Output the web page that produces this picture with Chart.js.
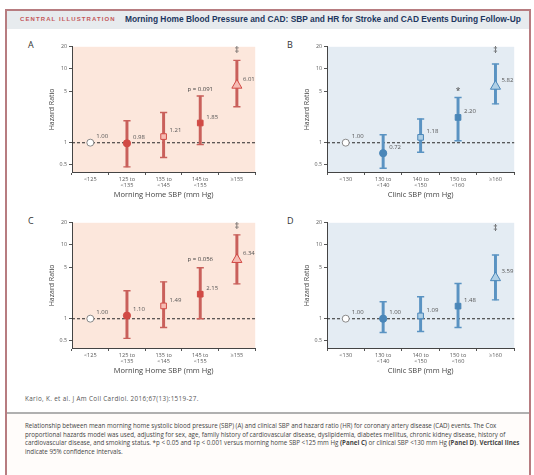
<!DOCTYPE html>
<html>
<head>
<meta charset="utf-8">
<script src="https://cdn.jsdelivr.net/npm/chart.js@4.4.1/dist/chart.umd.min.js"></script>
<style>
  body { margin: 0; width: 534px; height: 475px; background: #fff; font-family: "Open Sans", "Liberation Sans", sans-serif; position: relative; overflow: hidden; }
  .frame { position: absolute; left: 5px; top: 9px; width: 522px; height: 480px; border: 2px solid #b77c80; }
  .titlebar { position: absolute; left: 7px; top: 11px; width: 522px; height: 18px; background: #e7ebee; white-space: nowrap; }
  .tb-kicker { position: absolute; left: 13px; top: 5px; font: bold 6px "Liberation Sans", sans-serif; color: #c4585a; letter-spacing: 1.1px; }
  .tb-title { position: absolute; left: 118px; top: 3px; font: bold 8.4px "Liberation Sans", sans-serif; color: #1d3760; }
  .letter { position: absolute; font: 9px "Open Sans", sans-serif; color: #333; }
  canvas { position: absolute; }
  .cite { position: absolute; left: 25px; top: 394px; font: 6.3px "Open Sans", sans-serif; color: #555; white-space: nowrap; letter-spacing: 0.35px; }
  .sep { position: absolute; left: 7px; top: 412px; width: 522px; height: 2px; background: #b0b0b0; }
  .caption { position: absolute; left: 7px; top: 414px; width: 522px; height: 61px; background: #fffcfa; }
  .caption div { position: absolute; left: 18px; font: 6.2px "Open Sans", sans-serif; color: #444; white-space: nowrap; }
</style>
</head>
<body>
<div class="caption">
  <div style="top:7px">Relationship between mean morning home systolic blood pressure (SBP) (A) and clinical SBP and hazard ratio (HR) for coronary artery disease (CAD) events. The Cox</div>
  <div style="top:15.5px">proportional hazards model was used, adjusting for sex, age, family history of cardiovascular disease, dyslipidemia, diabetes mellitus, chronic kidney disease, history of</div>
  <div style="top:24px">cardiovascular disease, and smoking status. *p &lt; 0.05 and ‡p &lt; 0.001 versus morning home SBP &lt;125 mm Hg <b>(Panel C)</b> or clinical SBP &lt;130 mm Hg <b>(Panel D)</b>. <b>Vertical lines</b></div>
  <div style="top:32.5px">indicate 95% confidence intervals.</div>
</div>
<div class="frame"></div>
<div class="titlebar">
  <span class="tb-kicker">CENTRAL ILLUSTRATION</span>
  <span class="tb-title">Morning Home Blood Pressure and CAD: SBP and HR for Stroke and CAD Events During Follow-Up</span>
</div>
<div class="letter" style="left:28px;top:38px">A</div>
<div class="letter" style="left:287px;top:38px">B</div>
<div class="letter" style="left:28px;top:214px">C</div>
<div class="letter" style="left:287px;top:214px">D</div>
<canvas id="chartA" width="236" height="162" style="left:26px;top:40px"></canvas>
<canvas id="chartB" width="240" height="162" style="left:281px;top:40px"></canvas>
<canvas id="chartC" width="236" height="162" style="left:26px;top:216px"></canvas>
<canvas id="chartD" width="240" height="162" style="left:281px;top:216px"></canvas>
<div class="cite">Kario, K. et al. J Am Coll Cardiol. 2016;67(13):1519-27.</div>
<div class="sep"></div>

<script>
// categories
const homeSbpLabels = [['<125'], ['125 to', '<135'], ['135 to', '<145'], ['145 to', '<155'], ['\u2265155']];
const clinicSbpLabels = [['<130'], ['130 to', '<140'], ['140 to', '<150'], ['150 to', '<160'], ['\u2265160']];
const yTickValues = [0.5, 1, 5, 10, 20];

// panel A: morning home SBP
const hrA = [1.00, 0.98, 1.21, 1.85, 6.01];
const loA = [null, 0.47, 0.63, 0.94, 3.07];
const hiA = [null, 1.98, 2.57, 4.3, 13.1];
const textA = ['1.00', '0.98', '1.21', '1.85', '6.01'];
const markA = ['', '', '', 'p = 0.091', '\u2021'];
const markAtA = [null, null, null, 5.3, 17.5];

// panel B: clinic SBP
const hrB = [1.00, 0.72, 1.18, 2.20, 5.82];
const loB = [null, 0.45, 0.74, 1.06, 3.36];
const hiB = [null, 1.28, 2.1, 4.1, 11.7];
const textB = ['1.00', '0.72', '1.18', '2.20', '5.82'];
const markB = ['', '', '', '*', '\u2021'];
const markAtB = [null, null, null, 5.0, 17.5];

// panel C: morning home SBP
const hrC = [1.00, 1.10, 1.49, 2.15, 6.34];
const loC = [null, 0.54, 0.76, 1.0, 2.97];
const hiC = [null, 2.39, 3.16, 4.9, 13.7];
const textC = ['1.00', '1.10', '1.49', '2.15', '6.34'];
const markC = ['', '', '', 'p = 0.056', '\u2021'];
const markAtC = [null, null, null, 6.4, 17.5];

// panel D: clinic SBP
const hrD = [1.00, 1.00, 1.09, 1.48, 3.59];
const loD = [null, 0.65, 0.67, 0.76, 1.8];
const hiD = [null, 1.7, 1.98, 3.0, 7.3];
const textD = ['1.00', '1.00', '1.09', '1.48', '3.59'];
const markD = ['', '', '', '', '\u2021'];
const markAtD = [null, null, null, null, 16.5];

const shapes = ['circle', 'circle', 'rect', 'rect', 'triangle'];
const sizes = [3.5, 3.6, 4, 4, 5.8];

const redPal = { bg: '#fce7dc', main: '#d14a45', bar: '#c9605b', light: '#f6bcb4' };
const bluePal = { bg: '#e4ecf3', main: '#4a86b8', bar: '#5a93c2', light: '#b0d0e6' };

function makePanel(id, labels, hr, lo, hi, texts, marks, markAt, xTitle, pal) {
  const fills = [ '#ffffff', pal.main, pal.light, pal.main, pal.light ];
  const edges = hr.map((v, i) => i === 0 ? '#8a8a8a' : pal.main);

  const deco = {
    id: 'deco' + id,
    beforeDraw(chart) {
      const a = chart.chartArea, c = chart.ctx;
      c.save();
      c.fillStyle = pal.bg;
      c.fillRect(a.left, a.top, a.right - a.left, a.bottom - a.top);
      c.restore();
    },
    beforeDatasetsDraw(chart) {
      const a = chart.chartArea, c = chart.ctx;
      const y = chart.scales.y.getPixelForValue(1);
      c.save();
      c.strokeStyle = '#2a2a2a';
      c.lineWidth = 1.1;
      c.setLineDash([3, 2]);
      c.beginPath();
      c.moveTo(a.left, y);
      c.lineTo(a.right, y);
      c.stroke();
      c.restore();
    },
    afterDatasetsDraw(chart) {
      const c = chart.ctx, xs = chart.scales.x, ys = chart.scales.y;
      c.save();
      c.fillStyle = '#555';
      c.font = '6px "Open Sans", sans-serif';
      c.textBaseline = 'middle';
      c.textAlign = 'left';
      texts.forEach((t, i) => {
        const px = xs.getPixelForValue(i), py = ys.getPixelForValue(hr[i]);
        c.fillText(t, px + 6, py - 6);
      });
      c.textAlign = 'center';
      marks.forEach((m, i) => {
        if (!m) return;
        c.font = (m.length > 2 ? '6px' : '8.5px') + ' "Open Sans", sans-serif';
        c.fillStyle = '#444';
        c.fillText(m, xs.getPixelForValue(i), ys.getPixelForValue(markAt[i]));
      });
      c.restore();
    }
  };

  return new Chart(document.getElementById(id), {
    type: 'bar',
    data: {
      labels: labels,
      datasets: [
        {
          type: 'line', data: hr, showLine: false,
          pointStyle: shapes, pointRadius: sizes,
          pointBackgroundColor: fills, pointBorderColor: edges, pointBorderWidth: 1
        },
        {
          type: 'line', data: hi, showLine: false,
          pointStyle: 'line', pointRadius: 3.6, pointBorderColor: pal.bar, pointBorderWidth: 1.4
        },
        {
          type: 'line', data: lo, showLine: false,
          pointStyle: 'line', pointRadius: 3.6, pointBorderColor: pal.bar, pointBorderWidth: 1.4
        },
        {
          type: 'bar', data: lo.map((l, i) => l === null ? null : [l, hi[i]]),
          backgroundColor: pal.bar, barThickness: 2.3, borderWidth: 0
        }
      ]
    },
    options: {
      responsive: false,
      animation: false,
      devicePixelRatio: 1,
      layout: { padding: { left: 0, right: 4, top: 5, bottom: 0 } },
      plugins: { legend: { display: false }, tooltip: { enabled: false } },
      scales: {
        x: {
          offset: true,
          grid: { offset: true, drawOnChartArea: false, tickLength: 3, color: '#555' },
          border: { color: '#444', width: 1 },
          ticks: { color: '#5a5a5a', font: { size: 5.6, family: '"Open Sans", sans-serif', lineHeight: 1.1 }, padding: 1, maxRotation: 0, autoSkip: false },
          title: { display: true, text: xTitle, color: '#444', font: { size: 7.5, family: '"Open Sans", sans-serif' }, padding: { top: 0, bottom: 3 } },
          afterFit(s) { s.height = 30; }
        },
        y: {
          type: 'logarithmic', min: 0.4, max: 20,
          afterBuildTicks(s) { s.ticks = yTickValues.map(v => ({ value: v })); },
          grid: { drawOnChartArea: false, tickLength: 3, color: '#555' },
          border: { color: '#444', width: 1 },
          ticks: { color: '#5a5a5a', font: { size: 5.3, family: '"Open Sans", sans-serif' }, padding: 2, callback: v => String(v) },
          title: { display: true, text: 'Hazard Ratio', color: '#444', font: { size: 7, family: '"Open Sans", sans-serif' }, padding: { top: 22, bottom: 0 } },
          afterFit(s) { s.width = 46; }
        }
      }
    },
    plugins: [deco]
  });
}

makePanel('chartA', homeSbpLabels, hrA, loA, hiA, textA, markA, markAtA, 'Morning Home SBP (mm Hg)', redPal);
makePanel('chartB', clinicSbpLabels, hrB, loB, hiB, textB, markB, markAtB, 'Clinic SBP (mm Hg)', bluePal);
makePanel('chartC', homeSbpLabels, hrC, loC, hiC, textC, markC, markAtC, 'Morning Home SBP (mm Hg)', redPal);
makePanel('chartD', clinicSbpLabels, hrD, loD, hiD, textD, markD, markAtD, 'Clinic SBP (mm Hg)', bluePal);
</script>
</body>
</html>
